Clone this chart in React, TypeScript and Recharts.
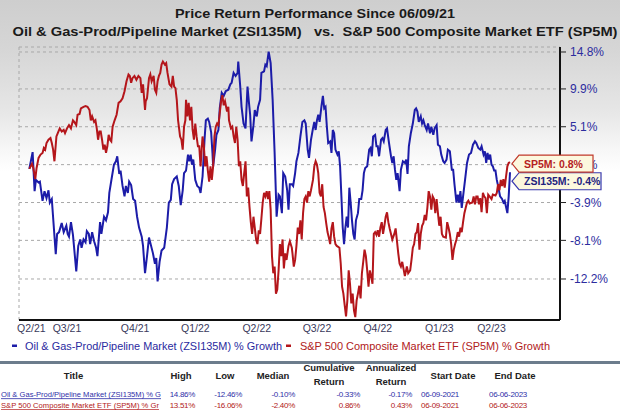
import { LineChart, Line, XAxis, YAxis, CartesianGrid } from 'recharts';

// [days since 06/09/21, % growth]
const zsiSeries: [number, number][] = [
  [0, 0], [5, 2.0], [8, -2.6], [10, -1.3], [14, -1.6], [16, -1.5], [20, -3.7], [23, -2.6], [26, -3.4], [29, -2.5], [31, -3.9], [34, -3.5],
  [40, -9.6], [42, -7.4], [45, -7.2], [49, -6.2], [52, -7.2], [56, -6.5], [58, -7.4], [60, -7.7], [63, -6.1], [66, -7.5], [71, -11.4], [74, -8.7],
  [77, -8.0], [79, -8.9], [82, -8.0], [85, -8.3], [87, -7.1], [90, -7.4], [92, -8.5], [95, -7.2], [98, -8.2], [101, -8.9], [103, -9.8], [107, -6.1],
  [109, -7.4], [113, -5.5], [116, -5.9], [119, -5.0], [121, -2.8], [125, -0.9], [128, 0.5], [131, 0.9], [133, 1.5], [136, -0.6], [138, -0.2], [141, -2.0],
  [144, -3.2], [146, -2.0], [149, -2.8], [151, -1.5], [154, -1.9], [157, -3.5], [160, -3.7], [163, -5.5], [166, -6.7], [170, -7.7], [172, -8.7], [175, -11.6],
  [178, -9.8], [181, -7.8], [187, -9.5], [190, -10.6], [192, -10.0], [194, -12.46], [197, -10.4], [200, -9.2], [204, -8.9], [208, -6.7], [211, -3.9], [214, -3.6],
  [216, -1.8], [219, -1.2], [223, -0.9], [226, -2.0], [229, -4.2], [232, -2.5], [234, -0.5], [237, -0.2], [240, 1.7], [242, 0.9], [244, 1.7], [246, 0.5],
  [248, 1.1], [251, -1.3], [254, -2.0], [257, -2.2], [259, -2.8], [262, -0.9], [265, 3.5], [267, 5.9], [270, 6.1], [272, 5.7], [275, 4.4], [277, 1.9],
  [278, 0.3], [281, 2.3], [283, 4.1], [286, 4.7], [288, 7.4], [291, 9.4], [294, 9.0], [297, 9.6], [301, 9.8], [304, 10.5], [306, 10.7], [309, 12.0],
  [312, 11.6], [315, 12.0], [316, 13.5], [319, 10.2], [321, 7.6], [324, 5.5], [327, 4.9], [330, 10.2], [332, 8.3], [334, 6.6], [336, 3.3], [339, 5.3],
  [341, 7.2], [344, 6.4], [346, 7.6], [349, 8.5], [351, 12.0], [355, 12.2], [357, 13.1], [359, 12.9], [362, 14.86], [365, 13.3], [368, 8.5], [371, 1.9],
  [374, -5.5], [377, -3.0], [379, -3.2], [382, -5.1], [384, -0.5], [387, -0.9], [390, -2.5], [392, -4.7], [394, -1.8], [397, -1.8], [399, -2.0], [402, -0.5],
  [404, 0.9], [407, 1.9], [410, 3.9], [413, 5.7], [416, 5.9], [418, 5.5], [421, 2.3], [423, 1.3], [426, 3.5], [429, 4.9], [431, 5.7], [433, 4.7],
  [435, 5.9], [437, 6.6], [439, 5.7], [442, 7.8], [444, 9.0], [446, 7.4], [448, 7.6], [450, 5.1], [452, 3.1], [455, 3.3], [457, 1.9], [459, 4.7],
  [461, 4.3], [463, 2.3], [466, 1.7], [468, 2.1], [470, 0.3], [472, -3.2], [474, -6.7], [476, -8.5], [478, -6.7], [480, -5.5], [482, -6.7], [484, -2.2],
  [486, -3.9], [488, -5.9], [490, -7.4], [492, -8.0], [494, -5.9], [497, -5.1], [499, -3.5], [502, -3.5], [504, -2.5], [506, -0.5], [508, 0.1], [511, 0.3],
  [514, 2.3], [516, 2.5], [518, 1.5], [520, 3.9], [523, 4.1], [525, 2.7], [527, 2.7], [529, 1.5], [532, 3.5], [534, 3.7], [536, 3.3], [539, 4.7],
  [541, 4.9], [544, 3.1], [547, 1.5], [549, 0.7], [551, 1.5], [553, -0.1], [555, -1.3], [557, -0.5], [560, -2.6], [562, -0.1], [565, 0.9], [568, 0.7],
  [570, 1.1], [572, -0.6], [574, 2.7], [577, 4.3], [580, 5.5], [583, 7.2], [585, 7.4], [587, 7.0], [589, 5.7], [592, 6.4], [594, 5.5], [596, 5.9],
  [598, 5.3], [601, 4.7], [603, 5.5], [606, 4.3], [608, 5.1], [611, 4.1], [613, 4.9], [616, 5.3], [618, 2.9], [621, 2.7], [623, 1.7], [626, 0.9],
  [628, 0.7], [631, 1.1], [633, 2.3], [636, 2.1], [639, -0.1], [641, -0.1], [643, -1.8], [646, -3.9], [648, -3.0], [650, -3.9], [652, -2.6], [654, -4.5],
  [656, -3.2], [659, -1.3], [662, 0.7], [665, 1.7], [668, 1.9], [671, 2.9], [674, 3.3], [676, 3.1], [679, 2.5], [682, 2.3], [684, 2.7], [687, 1.7],
  [689, 2.1], [691, 0.7], [693, 1.9], [695, 1.1], [697, 1.7], [699, 0.5], [701, 0.3], [703, -0.2], [705, -0.2], [707, -1.3], [709, -2.0], [712, -3.2],
  [715, -3.5], [717, -3.9], [719, -3.7], [721, -4.4], [723, -5.1], [725, -3.2], [727, -0.4],
];

const sp5mSeries: [number, number][] = [
  [0, 0], [4, 0.6], [6, 0.1], [9, -1.2], [11, 0.1], [14, 1.3], [17, 1.7], [20, 1.9], [22, 2.5], [24, 2.3], [26, 3.1], [29, 3.5],
  [32, 3.7], [34, 3.1], [36, 2.3], [38, 0.9], [41, 3.9], [44, 4.5], [46, 4.9], [49, 4.5], [52, 4.7], [54, 4.3], [57, 4.9], [60, 5.3],
  [63, 4.9], [66, 5.9], [68, 5.7], [71, 5.3], [73, 6.6], [76, 6.7], [78, 7.4], [82, 7.6], [85, 7.7], [88, 7.6], [91, 7.2], [93, 5.9],
  [95, 6.4], [98, 5.7], [100, 5.9], [102, 4.9], [104, 3.5], [106, 4.5], [108, 4.5], [110, 3.5], [112, 2.3], [114, 2.9], [116, 1.9], [118, 2.7],
  [120, 4.1], [122, 3.5], [124, 3.3], [126, 5.1], [129, 5.9], [132, 6.6], [135, 8.1], [138, 8.3], [141, 8.7], [144, 9.6], [147, 10.9], [150, 11.8],
  [152, 11.6], [154, 10.7], [156, 11.3], [159, 11.6], [162, 11.1], [165, 11.6], [168, 11.3], [170, 9.4], [172, 10.5], [175, 7.2], [176, 8.3], [178, 8.7],
  [181, 11.3], [183, 11.8], [185, 10.9], [188, 11.6], [190, 9.8], [192, 9.4], [194, 10.9], [196, 11.6], [198, 12.0], [200, 13.1], [202, 13.51], [205, 13.1],
  [207, 13.3], [209, 12.0], [212, 10.5], [215, 10.2], [217, 11.6], [219, 10.2], [221, 10.0], [223, 8.5], [225, 5.9], [228, 3.9], [230, 3.5], [232, 2.3],
  [234, 5.1], [236, 5.9], [237, 8.5], [239, 6.4], [241, 8.1], [243, 5.9], [245, 7.6], [247, 4.7], [249, 3.5], [251, 5.5], [253, 3.9], [255, 2.7],
  [257, 2.7], [259, 0.3], [261, 2.7], [262, 3.9], [264, 2.7], [266, 0.3], [268, 1.5], [270, -0.2], [272, -1.5], [274, 0.3], [276, -1.3], [278, 0.3],
  [280, 3.9], [282, 5.1], [284, 5.5], [286, 5.3], [288, 6.8], [290, 8.3], [292, 9.1], [294, 7.8], [296, 8.3], [299, 7.0], [301, 7.6], [302, 5.9],
  [305, 4.9], [307, 5.1], [309, 3.9], [311, 3.1], [313, 5.1], [315, 3.5], [317, 0.3], [319, 0.9], [321, -1.3], [323, -2.0], [325, -0.5], [327, 0.9],
  [329, -3.2], [331, -2.2], [333, -4.4], [335, -6.1], [337, -7.4], [339, -5.5], [341, -6.7], [343, -8.0], [345, -8.5], [347, -7.0], [349, -7.4], [351, -5.7],
  [353, -3.9], [355, -2.8], [357, -3.2], [359, -2.6], [361, -3.5], [363, -2.6], [365, -4.7], [367, -9.8], [369, -11.6], [371, -10.9], [373, -13.7], [375, -13.3],
  [377, -11.3], [379, -8.5], [381, -9.8], [383, -8.0], [385, -11.1], [387, -9.5], [389, -10.2], [392, -8.7], [394, -8.2], [397, -8.9], [398, -9.5], [400, -10.9],
  [402, -10.2], [404, -8.7], [406, -6.7], [408, -7.4], [410, -5.9], [412, -8.0], [414, -5.1], [416, -3.5], [418, -3.2], [420, -3.9], [422, -2.6], [424, -3.2],
  [426, -2.5], [429, -1.3], [431, 0.3], [433, 0.9], [435, 0.5], [437, -0.5], [439, -2.8], [441, -3.2], [443, -1.8], [445, -4.4], [447, -5.1], [449, -6.2],
  [451, -7.2], [453, -7.8], [455, -8.5], [457, -6.8], [459, -6.1], [461, -7.7], [463, -8.5], [465, -8.7], [469, -8.9], [471, -10.6], [473, -13.0], [475, -13.7],
  [477, -14.9], [479, -16.0], [481, -14.4], [483, -11.3], [485, -12.7], [487, -14.7], [489, -13.7], [491, -15.4], [493, -16.06], [495, -14.4], [497, -13.7], [499, -12.9],
  [501, -14.2], [503, -11.6], [505, -10.4], [507, -9.1], [509, -9.8], [511, -11.3], [513, -13.0], [515, -11.3], [517, -11.9], [519, -12.7], [521, -7.4], [523, -7.2],
  [525, -7.5], [527, -7.0], [529, -7.7], [531, -6.7], [533, -6.1], [535, -7.4], [537, -6.5], [539, -5.5], [541, -5.0], [543, -6.1], [545, -6.8], [549, -8.0],
  [552, -7.4], [554, -6.8], [558, -9.5], [560, -10.6], [562, -10.9], [564, -10.4], [568, -11.9], [571, -10.9], [573, -11.6], [576, -11.3], [578, -10.2], [580, -8.9],
  [582, -8.5], [584, -7.4], [586, -7.2], [588, -6.2], [590, -9.1], [592, -7.4], [594, -6.5], [596, -6.2], [598, -5.3], [600, -5.9], [602, -4.5], [604, -2.6],
  [606, -3.2], [608, -4.7], [610, -3.2], [612, -3.5], [614, -5.1], [616, -3.5], [618, -5.1], [620, -6.5], [622, -5.5], [624, -7.4], [626, -7.7], [630, -7.8],
  [632, -6.1], [634, -6.7], [636, -7.4], [638, -8.5], [640, -10.2], [642, -9.1], [644, -8.5], [646, -8.0], [648, -7.2], [650, -7.7], [652, -6.7], [654, -7.2],
  [656, -6.1], [658, -5.1], [660, -4.5], [662, -3.9], [664, -3.7], [666, -4.0], [670, -3.9], [672, -3.2], [674, -4.1], [676, -3.2], [678, -3.2], [680, -4.1],
  [682, -3.4], [684, -5.0], [686, -2.8], [688, -3.2], [690, -3.4], [692, -5.1], [694, -3.0], [696, -3.2], [699, -3.5], [701, -3.0], [705, -3.1], [707, -2.8],
  [709, -1.8], [711, -2.5], [713, -1.3], [715, -2.0], [717, -1.2], [719, -2.2], [721, -0.9], [723, 0.3], [725, 0.7], [727, 0.8],
];

const quarterLabels = ['Q2/21', 'Q3/21', 'Q4/21', 'Q1/22', 'Q2/22', 'Q3/22', 'Q4/22', 'Q1/23', 'Q2/23'];
const quarterLabelDays = [3, 57, 160, 251, 344, 435, 527, 620, 699];
const quarterGridDays = [39, 114, 206, 296, 387, 479, 571, 661, 727];
const yTickPct = [14.8, 9.9, 5.1, 0.5, -3.9, -8.1, -12.2];

const tableTitles = ['Oil & Gas-Prod/Pipeline Market (ZSI135M) % G', 'S&P 500 Composite Market ETF (SP5M) % Gr'];
const highs = ['14.86%', '13.51%'];
const lows = ['-12.46%', '-16.06%'];
const medians = ['-0.10%', '-2.40%'];
const cumulative = ['-0.33%', '0.86%'];
const annualized = ['-0.17%', '0.43%'];
const startDates = ['06-09-2021', '06-09-2021'];
const endDates = ['06-06-2023', '06-06-2023'];

const BLUE = '#1c1ca8';
const RED = '#b4161b';
const FONT = '"Liberation Sans", Arial, sans-serif';

const toRows = (s: [number, number][]) => s.map(([d, p]) => ({ d, g: 1 + p / 100 }));
const zsiData = toRows(zsiSeries);
const sp5mData = toRows(sp5mSeries);

function EndTag(props: any) {
  const { x, y, index, last, text, stroke, color, boxW, dy } = props;
  if (index !== last || x == null) return null;
  const tip = x + 2;
  const c = y + dy;
  const h = 8.5;
  const l = tip + 7;
  const pts = `${tip},${c} ${l},${c - h} ${l + boxW},${c - h} ${l + boxW},${c + h} ${l},${c + h}`;
  return (
    <g>
      <polygon points={pts} fill="#fcf8de" stroke={stroke} strokeWidth={1.2} />
      <text x={l + 5} y={c + 4} fill={color} fontSize={10.5} fontWeight="bold" fontFamily={FONT}>{text}</text>
    </g>
  );
}

const hdr = { fontSize: 9.5, fontWeight: 'bold' as const, fill: '#222', textAnchor: 'middle' as const };

export default function App() {
  return (
    <div style={{ position: 'absolute', left: 0, top: 0, width: 620, height: 410, overflow: 'hidden', fontFamily: FONT,
      background: 'linear-gradient(180deg, #cecece 0px, #d6d6d6 50px, #e6e6e6 110px, #f7f7f7 150px, #ffffff 172px, #ffffff 410px)' }}>
      <div style={{ position: 'absolute', left: 0, top: 0 }}>
        <LineChart width={620} height={345} margin={{ top: 47, right: 0, bottom: 0, left: 19 }}>
          <XAxis xAxisId="g" type="number" dataKey="d" domain={[-15.6, 802.6]} ticks={quarterGridDays}
            tick={false} tickLine={false} axisLine={false} height={0} />
          <XAxis xAxisId="q" type="number" dataKey="d" domain={[-15.6, 802.6]} ticks={quarterLabelDays} interval={0}
            tickFormatter={(v: number) => quarterLabels[quarterLabelDays.indexOf(v)]}
            tick={{ fill: '#3a3a5c', fontSize: 10.5, fontFamily: FONT }} tickLine={false} tickSize={2} tickMargin={3}
            axisLine={{ stroke: '#111', strokeWidth: 2 }} height={25} />
          <YAxis orientation="right" type="number" scale="log" domain={[0.83649, 1.1548]} width={60}
            ticks={yTickPct.map((p) => 1 + p / 100)} interval={0}
            tickFormatter={(v: number) => `${((v - 1) * 100).toFixed(1)}%`}
            tick={{ fill: '#2c2c9e', fontSize: 12, fontFamily: FONT }} tickSize={6} tickMargin={4}
            tickLine={{ stroke: '#222' }} axisLine={{ stroke: '#111', strokeWidth: 2 }} />
          <CartesianGrid xAxisId="g" stroke="#a8a8a8" strokeDasharray="3 3" />
          <Line xAxisId="q" data={zsiData} dataKey="g" stroke={BLUE} strokeWidth={2} isAnimationActive={false}
            dot={false} activeDot={false}
            label={(p: any) => <EndTag {...p} last={zsiData.length - 1} text="ZSI135M: -0.4%" stroke="#3a3ab0" color="#23237e" boxW={82} dy={9} />} />
          <Line xAxisId="q" data={sp5mData} dataKey="g" stroke={RED} strokeWidth={2} isAnimationActive={false}
            dot={false} activeDot={false}
            label={(p: any) => <EndTag {...p} last={sp5mData.length - 1} text="SP5M: 0.8%" stroke="#c0392b" color="#b5231f" boxW={74} dy={1.5} />} />
        </LineChart>
      </div>
      <svg width={620} height={410} style={{ position: 'absolute', left: 0, top: 0, pointerEvents: 'none' }} fontFamily={FONT}>
        <text x={315} y={18} textAnchor="middle" fontSize={13} fontWeight="bold" fill="#1a1a1a" textLength={280} lengthAdjust="spacingAndGlyphs">
          Price Return Performance Since 06/09/21
        </text>
        <text x={315} y={36} textAnchor="middle" fontSize={13} fontWeight="bold" fill="#1a1a1a" textLength={605} lengthAdjust="spacingAndGlyphs" style={{ whiteSpace: 'pre' }}>
          {'Oil & Gas-Prod/Pipeline Market (ZSI135M)   vs.  S&P 500 Composite Market ETF (SP5M)'}
        </text>

        <rect x={12} y={344.5} width={5} height={2.5} fill={BLUE} />
        <text x={25} y={349.5} fontSize={11} fill="#2a2aa0" textLength={257} lengthAdjust="spacingAndGlyphs">
          Oil &amp; Gas-Prod/Pipeline Market (ZSI135M) % Growth
        </text>
        <rect x={286} y={344.5} width={5} height={2.5} fill={RED} />
        <text x={300} y={349.5} fontSize={11} fill="#b02020" textLength={250} lengthAdjust="spacingAndGlyphs">
          S&amp;P 500 Composite Market ETF (SP5M) % Growth
        </text>

        <rect x={0} y={361} width={620} height={3} fill="#6c7c8c" />
        <text x={73.5} y={379.3} {...hdr}>Title</text>
        <text x={181} y={379.3} {...hdr}>High</text>
        <text x={225} y={379.3} {...hdr}>Low</text>
        <text x={273} y={379.3} {...hdr}>Median</text>
        <text x={329} y={371.3} {...hdr}>Cumulative</text>
        <text x={329} y={385.3} {...hdr}>Return</text>
        <text x={391} y={371.3} {...hdr}>Annualized</text>
        <text x={391} y={385.3} {...hdr}>Return</text>
        <text x={453} y={379.3} {...hdr}>Start Date</text>
        <text x={515} y={379.3} {...hdr}>End Date</text>

        {tableTitles.map((t, i) => {
          const y = 396.8 + i * 11;
          const c = i === 0 ? '#2f2fa8' : '#b22020';
          const cells = [
            [195, highs[i]], [242, lows[i]], [295, medians[i]], [360, cumulative[i]],
            [412, annualized[i]], [459, startDates[i]], [527, endDates[i]],
          ] as [number, string][];
          return (
            <g key={t} fill={c} fontSize={8}>
              <text x={1} y={y} textLength={i === 0 ? 160 : 158} lengthAdjust="spacingAndGlyphs">{t}</text>
              <rect x={1} y={y + 1.5} width={i === 0 ? 160 : 158} height={0.8} fill={c} />
              {cells.map(([x, v]) => (
                <text key={x} x={x} y={y} textAnchor="end" letterSpacing={-0.3}>{v}</text>
              ))}
            </g>
          );
        })}
      </svg>
    </div>
  );
}
